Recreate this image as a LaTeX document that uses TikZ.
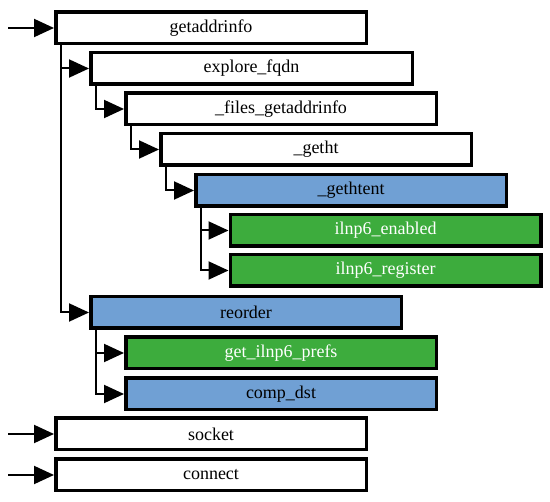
\documentclass[tikz,border=0pt]{standalone}
\usepackage{fontspec}
\setmainfont{Liberation Serif}
\usetikzlibrary{arrows.meta,calc}
\definecolor{boxblue}{RGB}{112,160,212}
\definecolor{boxgreen}{RGB}{61,172,61}
\begin{document}
\begin{tikzpicture}[x=1pt,y=-1pt,
  fn/.style={draw=black,line width=3.5pt,minimum width=310.5pt,minimum height=31.5pt,
    inner sep=0pt,fill=white,font=\fontsize{18}{20}\selectfont},
  wide/.style={minimum width=321.5pt},
  bluebox/.style={fill=boxblue},
  greenbox/.style={fill=boxgreen,text=white},
  call/.style={line width=2pt,-{Triangle[length=20pt,width=18pt]}}]
\useasboundingbox (0,0) rectangle (550,502);
\node[fn] (n1) at (211,28) {getaddrinfo};
\node[fn,wide] (n2) at (251.5,68.5) {explore\_fqdn};
\node[fn] (n3) at (281,109) {\_files\_getaddrinfo};
\node[fn] (n4) at (316,149.5) {\_getht};
\node[fn,bluebox] (n5) at (351,190.5) {\_gethtent};
\node[fn,greenbox] (n6) at (385.5,230.5) {ilnp6\_enabled};
\node[fn,greenbox] (n7) at (385.5,270.5) {ilnp6\_register};
\node[fn,bluebox] (n8) at (246,312.5) {reorder};
\node[fn,greenbox] (n9) at (281,353) {get\_ilnp6\_prefs};
\node[fn,bluebox] (n10) at (281,394) {comp\_dst};
\node[fn] (n11) at (211,434) {socket};
\node[fn] (n12) at (211,475) {connect};
\coordinate (in1) at (8,28);
\coordinate (in11) at (8,434);
\coordinate (in12) at (8,475);
\draw[call] (in1) -- (n1.west);
\draw[call] (in11) -- (n11.west);
\draw[call] (in12) -- (n12.west);
\draw[call] ($(n1.south west)+(7,0)$) |- (n2.west);
\draw[call] ($(n1.south west)+(7,0)$) |- (n8.west);
\draw[call] ($(n2.south west)+(7,0)$) |- (n3.west);
\draw[call] ($(n3.south west)+(7,0)$) |- (n4.west);
\draw[call] ($(n4.south west)+(7,0)$) |- (n5.west);
\draw[call] ($(n5.south west)+(7,0)$) |- (n6.west);
\draw[call] ($(n5.south west)+(7,0)$) |- (n7.west);
\draw[call] ($(n8.south west)+(7,0)$) |- (n9.west);
\draw[call] ($(n8.south west)+(7,0)$) |- (n10.west);
\end{tikzpicture}
\end{document}
